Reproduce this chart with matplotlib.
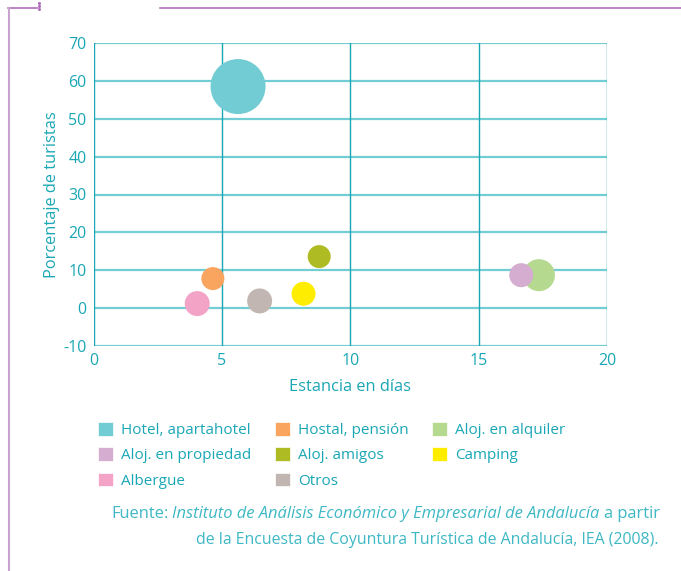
import matplotlib.pyplot as plt
from matplotlib.lines import Line2D
from matplotlib.patches import Patch
from matplotlib.offsetbox import TextArea, HPacker, AnchoredOffsetbox

plt.rcParams['font.family'] = ['Open Sans', 'DejaVu Sans']
plt.rcParams['axes.unicode_minus'] = False

# data
categorias = ['Hotel, apartahotel', 'Hostal, pensión', 'Aloj. en alquiler',
              'Aloj. en propiedad', 'Aloj. amigos', 'Camping', 'Albergue', 'Otros']
estancia = [5.63, 4.65, 17.35, 16.66, 8.79, 8.18, 4.04, 6.47]
porcentaje = [58.5, 7.8, 8.7, 8.7, 13.6, 3.8, 1.2, 1.9]
burbuja = [55, 23, 32, 24, 23, 24, 25, 25]  # bubble diameter (px)
colores = ['#71CCD3', '#F9A45F', '#B5D98F', '#D4ADD0', '#AEBB22', '#FFED00',
           '#F3A3C6', '#C1B6B1']

x_ticks = [0, 5, 10, 15, 20]
y_ticks = [-10, 0, 10, 20, 30, 40, 50, 60, 70]

teal = '#1AA7B5'
light = '#72CDD4'

fig = plt.figure(figsize=(6.81, 5.71), dpi=100)
ax = fig.add_axes([93.5 / 681, 1 - 346 / 571, (607 - 93.5) / 681, (346 - 43) / 571])

# bubbles: draw big one first so small ones sit on top
orden = sorted(range(len(categorias)), key=lambda i: -burbuja[i])
for i in orden:
    ax.scatter(estancia[i], porcentaje[i], s=(burbuja[i] * 0.72) ** 2,
               color=colores[i], edgecolors='none', zorder=3)

ax.set_xlim(0, 20)
ax.set_ylim(-10, 70)
ax.set_xticks(x_ticks)
ax.set_yticks(y_ticks)
for y in y_ticks:
    ax.axhline(y, color=light, lw=1.6, zorder=1)
for x in x_ticks:
    ax.axvline(x, color=teal, lw=1.0, zorder=1)
for s in ax.spines.values():
    s.set_visible(False)
ax.tick_params(length=0, colors=teal, labelsize=11.5, pad=5)
ax.set_xlabel('Estancia en días', color=teal, fontsize=11.8, labelpad=7)
ax.set_ylabel('Porcentaje de turistas', color=teal, fontsize=11.8, labelpad=2)

# legend, row-wise order in the picture -> column-wise for matplotlib
handles = [Patch(facecolor=c, edgecolor='white', lw=0.5) for c in colores]
col_order = [0, 3, 6, 1, 4, 7, 2, 5]
fig.legend([handles[i] for i in col_order], [categorias[i] for i in col_order],
           ncol=3, loc='upper left', bbox_to_anchor=(92 / 681, 1 - 416 / 571),
           frameon=False, fontsize=11, labelcolor=teal, handlelength=1.0,
           handleheight=1.0, handletextpad=0.5, columnspacing=1.55,
           labelspacing=0.6, borderaxespad=0)

# source note
src = '#3DB8C4'
fs = 11.9
linea1 = HPacker(children=[
    TextArea('Fuente:', textprops=dict(color=src, fontsize=fs)),
    TextArea('Instituto de Análisis Económico y Empresarial de Andalucía',
             textprops=dict(color=src, fontsize=fs, style='italic')),
    TextArea('a partir', textprops=dict(color=src, fontsize=fs)),
], sep=3, pad=0, align='baseline')
fig.add_artist(AnchoredOffsetbox(loc='center right', child=linea1, frameon=False,
                                 bbox_to_anchor=(660 / 681, 1 - 514 / 571),
                                 bbox_transform=fig.transFigure, pad=0, borderpad=0))
fig.text(658 / 681, 1 - 540 / 571,
         'de la Encuesta de Coyuntura Turística de Andalucía, IEA (2008).',
         color=src, fontsize=11.4, ha='right', va='center')

# decorative frame
purple = '#B06FBA'
fig.add_artist(Line2D([8 / 681, 37 / 681], [1 - 8 / 571] * 2, color=purple, lw=1.2))
fig.add_artist(Line2D([160 / 681, 1], [1 - 8 / 571] * 2, color=purple, lw=1.2))
fig.add_artist(Line2D([9 / 681] * 2, [0, 1 - 8 / 571], color='#C9A3CF', lw=1.5))
fig.add_artist(Line2D([39 / 681] * 3, [1 - 3 / 571, 1 - 6 / 571, 1 - 9 / 571],
                      color=purple, lw=0, marker='o', markersize=1.2))

fig.savefig('out.png', dpi=100)
